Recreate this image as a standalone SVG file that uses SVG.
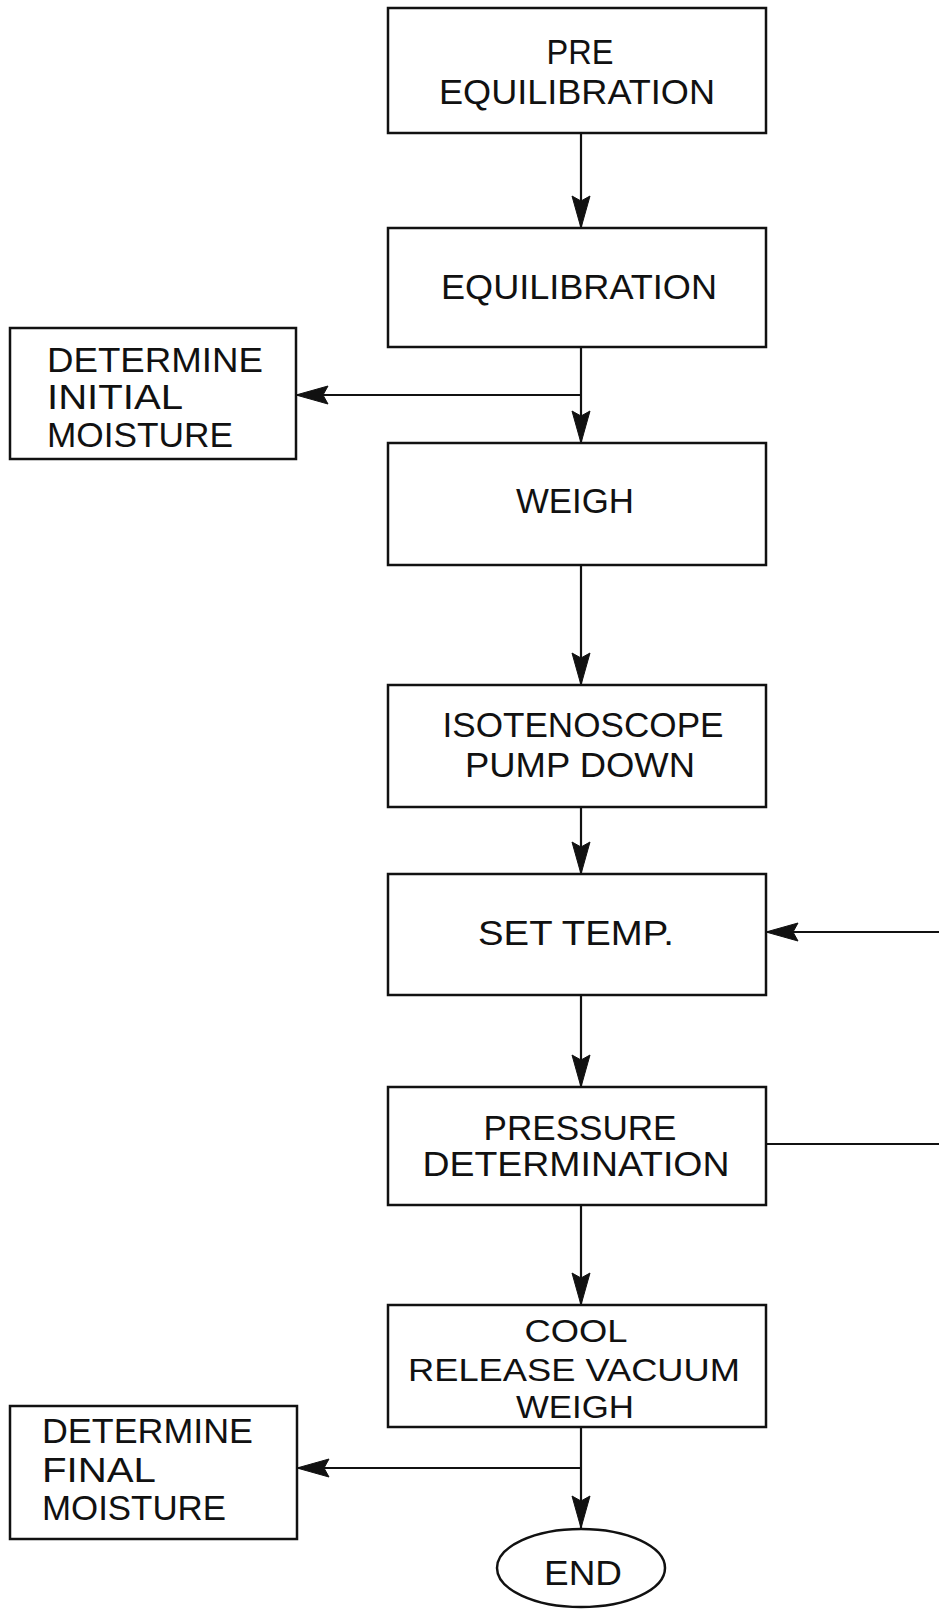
<svg xmlns="http://www.w3.org/2000/svg" width="939" height="1609" viewBox="0 0 939 1609">
<style>
.box{fill:#fff;stroke:#111;stroke-width:2.5}
.lbl{font-family:"Liberation Sans",Arial,sans-serif;font-size:35px;fill:#111;text-anchor:middle}
.lbl2{font-family:"Liberation Sans",Arial,sans-serif;font-size:35px;fill:#111;text-anchor:start}
.sm{font-size:31px}
.con{fill:none;stroke:#111;stroke-width:2.2}
</style>
<defs>
<marker id="ah" viewBox="-34 -10 36 20" refX="0" refY="0" markerWidth="36" markerHeight="20" markerUnits="userSpaceOnUse" orient="auto">
<path d="M0,0 L-32,-9 L-27,0 L-32,9 Z" fill="#111" stroke="#111" stroke-width="1"/>
</marker>
</defs>
<rect width="939" height="1609" fill="#fff"/>
<g id="connectors">
<path class="con" d="M581,133 V228" marker-end="url(#ah)"/>
<path class="con" d="M581,347 V443" marker-end="url(#ah)"/>
<path class="con" d="M581,395 H296" marker-end="url(#ah)"/>
<path class="con" d="M581,565 V685" marker-end="url(#ah)"/>
<path class="con" d="M581,807 V874" marker-end="url(#ah)"/>
<path class="con" d="M581,995 V1087" marker-end="url(#ah)"/>
<path class="con" d="M581,1205 V1305" marker-end="url(#ah)"/>
<path class="con" d="M581,1427 V1528" marker-end="url(#ah)"/>
<path class="con" d="M581,1468 H297" marker-end="url(#ah)"/>
<path class="con" d="M766,1144 H960 V932 H766" marker-end="url(#ah)"/>
</g>
<g id="pre_equilibration">
<rect class="box" x="388" y="8" width="378" height="125"/>
<text class="lbl" x="580" y="64" textLength="67" lengthAdjust="spacingAndGlyphs">PRE</text>
<text class="lbl" x="577" y="104" textLength="276" lengthAdjust="spacingAndGlyphs">EQUILIBRATION</text>
</g>
<g id="equilibration">
<rect class="box" x="388" y="228" width="378" height="119"/>
<text class="lbl" x="579" y="299" textLength="276" lengthAdjust="spacingAndGlyphs">EQUILIBRATION</text>
</g>
<g id="determine_initial_moisture">
<rect class="box" x="10" y="328" width="286" height="131"/>
<text class="lbl2" x="47" y="372" textLength="216" lengthAdjust="spacingAndGlyphs">DETERMINE</text>
<text class="lbl2" x="47" y="409" textLength="136" lengthAdjust="spacingAndGlyphs">INITIAL</text>
<text class="lbl2" x="47" y="447" textLength="186" lengthAdjust="spacingAndGlyphs">MOISTURE</text>
</g>
<g id="weigh">
<rect class="box" x="388" y="443" width="378" height="122"/>
<text class="lbl" x="575" y="513" textLength="118" lengthAdjust="spacingAndGlyphs">WEIGH</text>
</g>
<g id="isotenoscope_pump_down">
<rect class="box" x="388" y="685" width="378" height="122"/>
<text class="lbl" x="583" y="737" textLength="281" lengthAdjust="spacingAndGlyphs">ISOTENOSCOPE</text>
<text class="lbl" x="580" y="777" textLength="230" lengthAdjust="spacingAndGlyphs">PUMP DOWN</text>
</g>
<g id="set_temp">
<rect class="box" x="388" y="874" width="378" height="121"/>
<text class="lbl" x="576" y="945" textLength="196" lengthAdjust="spacingAndGlyphs">SET TEMP.</text>
</g>
<g id="pressure_determination">
<rect class="box" x="388" y="1087" width="378" height="118"/>
<text class="lbl" x="580" y="1140" textLength="193" lengthAdjust="spacingAndGlyphs">PRESSURE</text>
<text class="lbl" x="576" y="1176" textLength="307" lengthAdjust="spacingAndGlyphs">DETERMINATION</text>
</g>
<g id="cool_release_vacuum_weigh">
<rect class="box" x="388" y="1305" width="378" height="122"/>
<text class="lbl sm" x="576" y="1342" textLength="103" lengthAdjust="spacingAndGlyphs">COOL</text>
<text class="lbl sm" x="574" y="1381" textLength="332" lengthAdjust="spacingAndGlyphs">RELEASE VACUUM</text>
<text class="lbl sm" x="575" y="1418" textLength="118" lengthAdjust="spacingAndGlyphs">WEIGH</text>
</g>
<g id="determine_final_moisture">
<rect class="box" x="10" y="1406" width="287" height="133"/>
<text class="lbl2" x="42" y="1443" textLength="211" lengthAdjust="spacingAndGlyphs">DETERMINE</text>
<text class="lbl2" x="42" y="1482" textLength="114" lengthAdjust="spacingAndGlyphs">FINAL</text>
<text class="lbl2" x="42" y="1520" textLength="184" lengthAdjust="spacingAndGlyphs">MOISTURE</text>
</g>
<g id="end">
<ellipse class="box" cx="581" cy="1568" rx="84" ry="39"/>
<text class="lbl" x="583" y="1585" textLength="78" lengthAdjust="spacingAndGlyphs">END</text>
</g>
</svg>
